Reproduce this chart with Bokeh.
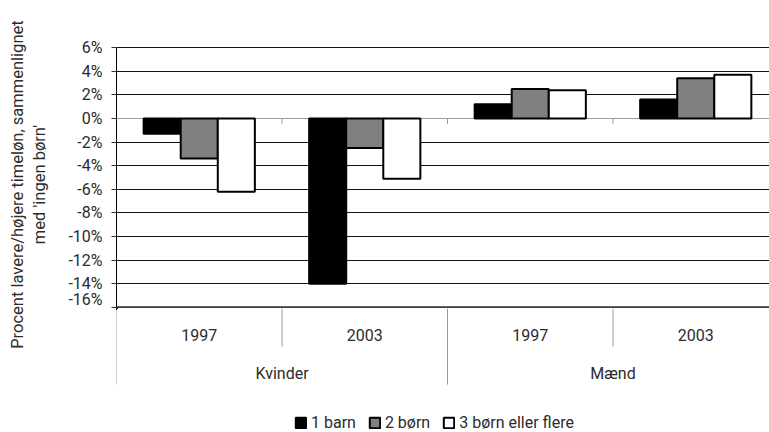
from bokeh.plotting import figure
from bokeh.layouts import column, row
from bokeh.models import Range1d, FixedTicker, PrintfTickFormatter, Legend, LegendItem, ColumnDataSource
from bokeh.core.properties import value
from bokeh.embed import file_html
from bokeh.resources import INLINE

# ---- data ----
genders = ["Kvinder", "Mænd"]
years = ["1997", "2003"]
series_names = ["1 barn", "2 børn", "3 børn eller flere"]
one_child = [-1.3, -14.0, 1.2, 1.6]
two_children = [-3.4, -2.5, 2.5, 3.4]
three_plus = [-6.2, -5.1, 2.4, 3.7]
y_ticks = list(range(-16, 7, 2))
y_title_lines = ["Procent lavere/højere timeløn, sammenlignet", "med 'ingen børn'"]

FONT = "Roboto"
TXT = "#2b2b2b"
SEP = "#9a9a9a"

n_cat = len(genders) * len(years)
centers = [i + 0.5 for i in range(n_cat)]
bar_w = 0.224
fills = ["#000000", "#808080", "#ffffff"]
datas = [one_child, two_children, three_plus]
offsets = [-bar_w, 0, bar_w]

PX = 11.8          # pixels per percent point
TITLE_W = 50
TOP_H, BOT_H = 308, 124
MB_TOP = 46
y_lo, y_hi = min(y_ticks) - 0.1, max(y_ticks) + 0.1
x_range = Range1d(0, 653 / 165.5)

# ---------------- y-axis title (own narrow panel) ----------------
t = figure(width=TITLE_W, height=TOP_H + BOT_H, x_range=Range1d(0, TITLE_W),
           y_range=Range1d(y_lo - BOT_H / PX, y_hi + MB_TOP / PX),
           output_backend="svg", toolbar_location=None, x_axis_location=None, y_axis_location=None,
           min_border_left=0, min_border_right=0, min_border_top=0, min_border_bottom=0)
t.outline_line_color = None
t.grid.visible = False
t.text(x=[28], y=[-5.6], text=["\n".join(y_title_lines)], angle=1.5707963267948966,
       text_align="center", text_baseline="middle", text_line_height=1.2,
       text_font=value(FONT), text_font_size="16.5px", text_color=TXT)

# ---------------- main chart ----------------
p = figure(width=769 - TITLE_W, height=TOP_H, x_range=x_range, y_range=Range1d(y_lo, y_hi),
           output_backend="svg", toolbar_location=None, x_axis_location=None,
           min_border_left=116 - TITLE_W, min_border_right=0, min_border_top=MB_TOP, min_border_bottom=0)
p.outline_line_color = None
p.xgrid.visible = False
p.ygrid.ticker = FixedTicker(ticks=[v for v in y_ticks if v != 0])
p.ygrid.grid_line_color = "#111111"
p.ygrid.grid_line_width = 1

ax = p.yaxis[0]
ax.ticker = FixedTicker(ticks=y_ticks)
ax.formatter = PrintfTickFormatter(format="%d%%")
ax.bounds = (min(y_ticks), max(y_ticks))
ax.axis_line_color = "#000000"
ax.axis_line_width = 1
ax.major_tick_in = 0
ax.major_tick_out = 5
ax.major_tick_line_color = "#333333"
ax.minor_tick_line_color = None
ax.major_label_standoff = 9
ax.major_label_text_font = FONT
ax.major_label_text_font_size = "16px"
ax.major_label_text_color = TXT

# zero (category axis) line and small ticks
p.segment(x0=[0], y0=[0], x1=[n_cat], y1=[0], line_color=SEP, line_width=1)
p.segment(x0=list(range(1, n_cat)), y0=[0] * (n_cat - 1), x1=list(range(1, n_cat)),
          y1=[-0.45] * (n_cat - 1), line_color=SEP, line_width=1)
# bottom line
p.segment(x0=[0], y0=[min(y_ticks)], x1=[n_cat], y1=[min(y_ticks)], line_color="#3a3a3a", line_width=2)

for vals, fc, off in zip(datas, fills, offsets):
    src = ColumnDataSource(dict(x=[c + off for c in centers], top=vals))
    p.vbar(x="x", top="top", bottom=0, width=bar_w, source=src,
           fill_color=fc, line_color="#000000", line_width=2)

# ---------------- category labels + legend ----------------
q = figure(width=769 - TITLE_W, height=BOT_H, x_range=x_range, y_range=Range1d(y_lo - BOT_H / PX, y_lo),
           output_backend="svg", toolbar_location=None, x_axis_location=None, y_axis_location=None,
           min_border_left=116 - TITLE_W, min_border_right=0, min_border_top=0, min_border_bottom=0)
q.outline_line_color = None
q.grid.visible = False

y_inner = -19.33
y_outer = -22.55
inner_x = [i for i in range(n_cat + 1) if i % len(years) != 0]
outer_x = [i for i in range(n_cat + 1) if i % len(years) == 0]
q.segment(x0=inner_x, y0=[y_lo] * len(inner_x), x1=inner_x, y1=[y_inner] * len(inner_x),
          line_color=SEP, line_width=1)
q.segment(x0=outer_x, y0=[y_lo] * len(outer_x), x1=outer_x, y1=[y_outer] * len(outer_x),
          line_color=SEP, line_width=1)

year_labels = [y for g in genders for y in years]
q.text(x=centers, y=[-18.31] * n_cat, text=year_labels, text_align="center", text_baseline="middle",
       text_font=value(FONT), text_font_size="16px", text_color=TXT)
g_centers = [len(years) * (i + 0.5) for i in range(len(genders))]
q.text(x=g_centers, y=[-21.62] * len(genders), text=genders, text_align="center", text_baseline="middle",
       text_font=value(FONT), text_font_size="16px", text_color=TXT)

# legend proxies: same series, placed off-range so only their legend swatches show
legend_renderers = []
for vals, fc in zip(datas, fills):
    src = ColumnDataSource(dict(x=[c - 10 for c in centers], top=vals))
    r = q.vbar(x="x", top="top", bottom=0, width=bar_w, source=src,
               fill_color=fc, line_color="#000000", line_width=2)
    legend_renderers.append(r)

legend = Legend(items=[LegendItem(label=n, renderers=[r]) for n, r in zip(series_names, legend_renderers)],
                orientation="horizontal", location=(178, 0), padding=0, margin=0,
                glyph_width=13, glyph_height=13, label_height=13, label_standoff=4, spacing=12,
                label_text_font=FONT, label_text_font_size="16px", label_text_color=TXT,
                background_fill_alpha=0, border_line_color=None)
q.add_layout(legend, "center")

layout = row(t, column(p, q, spacing=0), spacing=0)
open("out.html", "w").write(file_html(layout, INLINE))
